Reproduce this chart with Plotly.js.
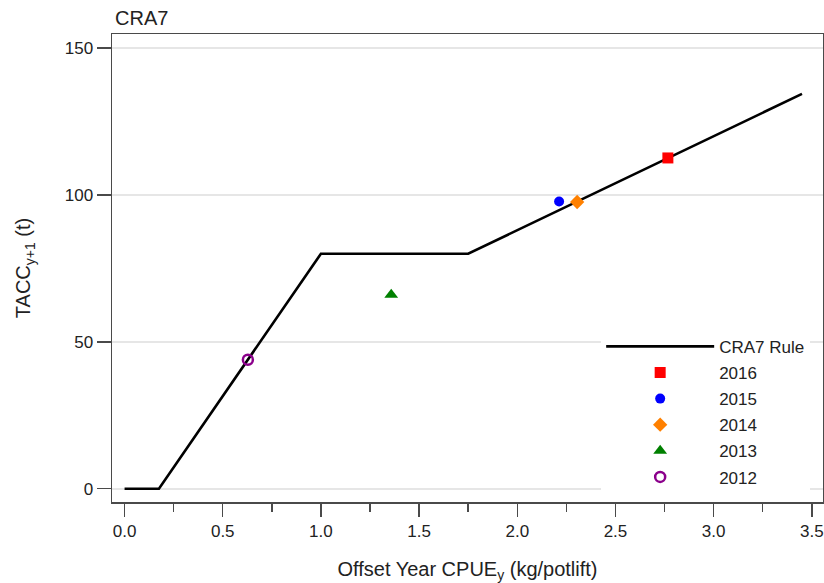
<!DOCTYPE html>
<html>
<head>
<meta charset="utf-8">
<script src="https://cdn.plot.ly/plotly-3.0.1.min.js"></script>
<style>html,body{margin:0;padding:0;background:#fff;}#chart{width:824px;height:583px;}</style>
</head>
<body>
<div id="chart"></div>
<script>
// Harvest control rule (CPUE, TACC)
var ruleX = [0, 0.175, 1.0, 1.75, 3.45];
var ruleY = [0, 0, 80, 80, 134.4];

// Observed years
var years = ['2016', '2015', '2014', '2013', '2012'];
var cpue = [2.767, 2.213, 2.305, 1.358, 0.628];
var tacc = [112.6, 97.8, 97.6, 66.0, 43.9];

var xTicks = [0, 0.5, 1, 1.5, 2, 2.5, 3, 3.5];
var xTickText = ['0.0', '0.5', '1.0', '1.5', '2.0', '2.5', '3.0', '3.5'];
var yTicks = [0, 50, 100, 150];

var symbols = ['square', 'circle', 'diamond', 'triangle-up', 'circle-open'];
var colors = ['#ff0000', '#0000ff', '#ff8000', '#008000', '#8b008b'];
var sizes = [11, 10, 11, 12, 10];

var traces = [{
  x: ruleX, y: ruleY, mode: 'lines', name: 'CRA7 Rule',
  line: {color: '#000', width: 2.6}, legendgroup: 'r'
}];
for (var i = 0; i < years.length; i++) {
  traces.push({
    x: [cpue[i]], y: [tacc[i]], mode: 'markers', name: years[i], legendgroup: 'g' + i,
    marker: {symbol: symbols[i], color: colors[i], size: sizes[i],
             line: {color: colors[i], width: symbols[i] === 'circle-open' ? 2.5 : 0}}
  });
}

var axisCol = '#4a4a4a';
var layout = {
  width: 824, height: 583,
  margin: {l: 112, r: 1, t: 34, b: 81, pad: 0},
  paper_bgcolor: '#fff', plot_bgcolor: '#fff',
  font: {family: 'Liberation Sans, Arial, sans-serif', color: '#222', size: 17},
  title: {text: 'CRA7', xref: 'container', x: 115 / 824, xanchor: 'left',
          yref: 'container', y: 1 - 18 / 583, yanchor: 'middle', font: {size: 20, color: '#222'}},
  showlegend: true,
  legend: {x: 0.688, xanchor: 'left', y: 0.37, yanchor: 'top', bgcolor: '#fff',
           borderwidth: 0, font: {size: 17}, itemwidth: 108, tracegroupgap: 1, traceorder: 'grouped'},
  xaxis: {
    range: [-0.064, 3.557], tickvals: xTicks, ticktext: xTickText,
    ticks: 'outside', ticklen: 13, tickwidth: 1.5, tickcolor: axisCol,
    showline: true, mirror: true, linecolor: axisCol, linewidth: 1.5,
    showgrid: false, zeroline: false,
    minor: {dtick: 0.25, tick0: 0, ticks: 'outside', ticklen: 8, tickwidth: 1.5, tickcolor: axisCol, showgrid: false},
    tickfont: {size: 17, color: '#222'},
    automargin: false,
    title: {text: 'Offset Year CPUE<sub>y</sub> (kg/potlift)', font: {size: 20, color: '#222'}, standoff: 22}
  },
  yaxis: {
    range: [-4.53, 154.8], tickvals: yTicks,
    ticks: 'outside', ticklen: 14, tickwidth: 1.5, tickcolor: axisCol,
    showline: true, mirror: true, linecolor: axisCol, linewidth: 1.5,
    showgrid: true, gridcolor: '#e6e6e6', gridwidth: 2, zeroline: false,
    tickfont: {size: 17, color: '#222'},
    automargin: false,
    title: {text: 'TACC<sub>y+1</sub> (t)', font: {size: 20, color: '#222'}, standoff: 28}
  }
};

Plotly.newPlot('chart', traces, layout, {displayModeBar: false, staticPlot: true});
</script>
</body>
</html>
